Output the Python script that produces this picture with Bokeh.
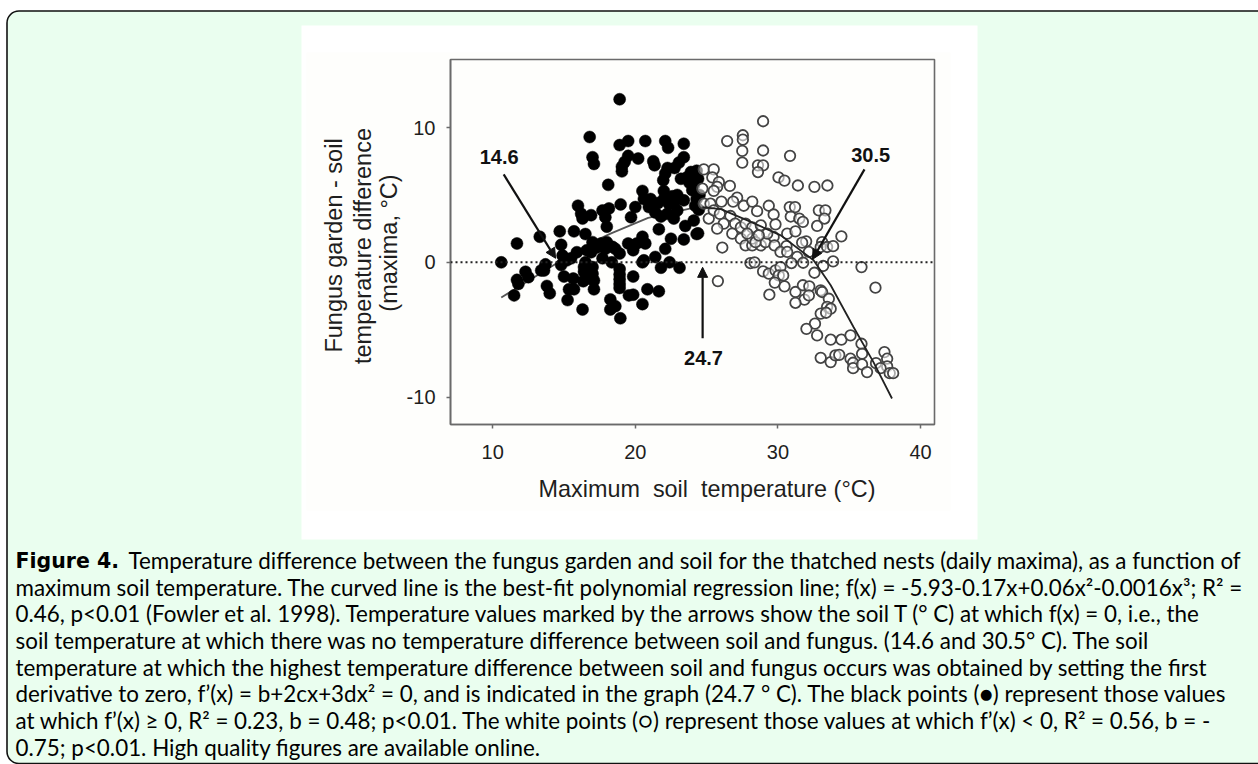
from bokeh.plotting import figure
from bokeh.models import BoxAnnotation, Arrow, NormalHead, Span, FixedTicker, Range1d, Column
from bokeh.core.properties import value
from bokeh.embed import file_html
from bokeh.resources import INLINE

black_x = [18.9,16.8,18.9,19.5,20.7,22.1,22.3,23.4,17.0,17.1,19.5,20.2,19.25,19.06,19.06,21.26,21.35,23.4,23.06,22.75,22.26,22.1,21.96,18.1,23.9,24.3,24.3,24.0,22.0,20.5,
           18.97,15.98,16.2,16.9,16.3,17.7,18.15,17.9,18.0,20.0,19.7,20.6,21.07,20.95,21.4,21.8,22.0,22.35,22.94,23.4,22.7,22.94,22.7,22.24,24.2,24.3,24.1,23.5,24.3,23.4,22.5,22.1,21.65,
           22.4,21.8,23.1,21.4,20.6,20.5,20.7,20.5,20.1,19.5,19.85,18.9,18.35,17.7,18.4,18.0,17.6,17.0,16.5,15.7,14.7,13.3,11.7,10.6,
           14.8,14.9,15.2,15.9,14.8,15.5,16.9,13.7,13.6,13.4,12.3,12.5,11.7,11.8,11.5,
           13.8,14.0,15.0,15.65,15.7,15.35,15.25,16.3,16.35,16.5,16.4,16.4,17.0,17.0,17.1,17.1,16.75,
           18.9,18.9,18.9,18.9,18.9,19.85,19.55,19.85,20.85,21.65,20.5,18.25,18.6,18.25,18.95,
           24.4,24.1,24.45,24.5,23.6,23.8,23.2,24.4,17.3,17.9,18.6,16.6,22.6,21.6]
black_y = [12.1,9.3,8.7,9.0,9.0,9.0,8.5,8.8,7.8,7.3,7.9,7.7,7.45,7.1,6.75,7.5,7.2,7.8,7.4,7.0,7.0,6.6,6.1,5.75,6.7,6.8,6.1,5.35,5.3,5.3,
           4.3,4.2,3.6,3.5,3.25,3.85,4.0,3.35,2.65,4.1,3.35,4.7,4.7,4.1,3.7,3.4,4.7,4.35,5.0,4.6,4.35,3.85,3.25,3.6,4.2,4.7,3.1,2.7,2.1,1.7,1.75,1.0,2.45,
           0.0,-0.4,-0.4,0.4,0.15,0.0,1.4,1.9,1.4,1.4,0.9,0.65,0.0,0.3,1.15,1.5,1.4,1.5,2.1,2.3,2.3,1.9,1.4,0.0,
           1.3,0.5,0.15,0.75,-0.2,0.3,0.75,-0.15,-0.6,-0.6,-0.7,-1.1,-1.3,-1.6,-2.45,
           -1.75,-2.3,-1.05,-1.2,-2.0,-2.0,-2.8,-3.5,-1.4,0.0,-0.35,-0.7,-0.35,-0.85,-1.35,-2.0,-1.2,
           -0.5,-0.9,-1.25,-1.6,-1.9,-1.05,-2.45,-2.4,-2.0,-2.15,-3.1,-2.75,-3.25,-3.5,-4.15,
           6.2,5.7,3.9,5.0,6.3,5.9,6.2,2.15,1.1,1.0,1.0,0.9,4.9,4.4]

white_x = [28.96,26.44,27.54,27.54,27.5,28.96,27.5,28.6,28.96,28.6,30.85,30.04,30.46,31.4,32.56,33.47,
           24.8,25.5,25.4,25.86,26.63,25.74,24.7,25.5,24.8,25.27,26.04,27.14,26.86,27.6,28.2,28.54,29.36,29.7,
           30.83,31.2,30.9,31.5,31.75,32.87,33.33,33.26,32.75,34.45,
           25.15,25.5,25.93,26.67,26.2,25.74,27.0,26.8,27.4,27.73,28.2,28.8,29.83,27.4,27.73,28.2,28.8,29.13,29.7,29.25,26.1,28.2,28.43,27.85,28.66,
           30.65,31.23,29.76,30.6,30.18,30.65,31.35,31.98,31.7,32.17,33.1,33.0,33.45,33.87,
           28.07,28.36,30.95,31.77,33.17,33.87,35.86,36.84,25.79,
           28.96,29.36,29.83,30.18,30.06,30.37,29.78,30.46,29.4,32.56,31.23,31.75,32.2,31.86,31.23,32.17,33.0,33.1,33.57,33.45,33.7,33.0,33.38,32.6,32.0,32.75,33.7,34.45,35.09,35.86,
           33.0,33.7,34.03,34.3,35.09,35.27,35.27,35.9,35.9,36.25,36.88,37.47,37.66,37.66,37.2,37.84,38.08]
white_y = [10.47,9.0,9.43,9.1,8.27,8.3,7.4,7.2,7.2,6.7,7.9,6.3,6.06,5.7,5.6,5.7,
           6.9,6.9,6.3,5.95,5.67,5.6,5.47,5.3,4.35,4.35,4.5,4.8,4.5,4.2,4.5,3.8,4.2,3.55,
           4.1,4.1,3.4,3.25,3.0,3.86,3.86,3.25,2.7,1.93,
           3.25,3.86,3.6,3.44,2.87,2.5,2.87,2.13,2.6,2.87,2.6,2.75,2.82,1.76,1.26,1.26,1.26,1.5,1.88,2.13,1.1,1.76,1.5,2.13,2.0,
           2.13,2.3,1.26,1.2,0.77,0.77,0.4,1.56,1.46,0.77,1.5,1.14,1.14,1.2,
           -0.05,0.0,-0.05,-0.03,-0.27,0.07,-0.35,-1.88,-1.39,
           -0.67,-0.84,-0.6,-0.35,-0.97,-0.97,-1.5,-1.78,-2.4,-0.77,-2.2,-1.7,-1.78,-2.77,-3.0,-2.45,-2.08,-2.2,-2.7,-3.3,-3.44,-3.8,-3.74,-4.55,-4.93,-5.42,-5.74,-5.74,-5.42,-6.04,
           -7.08,-7.4,-6.9,-6.86,-7.15,-7.45,-7.85,-6.78,-7.57,-8.14,-7.48,-6.66,-7.15,-7.72,-7.85,-8.22,-8.22]

curve_left_x = [10.6,12.0,14.6,17.0,18.3,20.9,23.9,24.7]
curve_left_y = [-2.6,-1.7,0.0,1.5,2.15,3.3,4.0,4.1]
curve_right_x = [24.7,26.0,27.9,30.2,32.5,33.7,35.3,36.7,38.0]
curve_right_y = [4.1,3.95,3.1,2.0,0.15,-1.7,-4.8,-7.4,-10.1]

x_ticks = [10,20,30,40]
y_ticks = [-10,0,10]

caption = [
 "Temperature difference between the fungus garden and soil for the thatched nests (daily maxima), as a function of",
 "maximum soil temperature. The curved line is the best-fit polynomial regression line; f(x)  = -5.93-0.17x+0.06x²-0.0016x³; R² =",
 "0.46, p<0.01 (Fowler et al. 1998). Temperature values marked by the arrows show the soil T (° C) at which f(x) = 0, i.e., the",
 "soil temperature at which there was no temperature difference between soil and fungus. (14.6 and 30.5° C). The soil",
 "temperature at which the highest temperature difference between soil and fungus occurs was obtained by setting the first",
 "derivative to zero, f’(x) = b+2cx+3dx² = 0, and is indicated in the graph (24.7 ° C). The black points (●) represent those values",
 "at which f’(x) ≥ 0, R²  = 0.23, b = 0.48; p<0.01. The white points (○) represent those values at which f’(x) < 0, R²  = 0.56, b =  -",
 "0.75; p<0.01. High quality figures are available online.",
]

W, H = 1258, 764
L, R, T, B = 450, 934, 59, 424

bg = figure(width=W, height=H, output_backend="svg", toolbar_location=None,
            x_range=Range1d(0, W), y_range=Range1d(H, 0),
            min_border_left=0, min_border_right=0, min_border_top=0, min_border_bottom=0,
            x_axis_location=None, y_axis_location=None)
bg.grid.visible = False
bg.outline_line_color = None
bg.background_fill_color = "#ffffff"
bg.border_fill_color = "#ffffff"

def box(l, r, t, b, **kw):
    bg.add_layout(BoxAnnotation(left=l, right=r, top=t, bottom=b, level="underlay", **kw))

box(6.5, 1270, 10.5, 763, fill_color="#eafeef", fill_alpha=1, line_color="#111111", line_alpha=1, line_width=1.6, border_radius=12)
box(301, 977, 25, 539, fill_color="#ffffff", fill_alpha=1, line_color=None)
box(306, 950, 52, 510, fill_color="#fefefc", fill_alpha=1, line_color=None)

def text(x, y, s, font="Liberation Sans", size=20, style="normal", color="#1e1e1e", align="left", angle=0):
    bg.text([x], [y], text=[s], text_font=value(font), text_font_size=value(f"{size}px"),
            text_font_style=style, text_color=color, text_align=align, text_baseline="middle",
            angle=angle, angle_units="deg")

text(333, 245, "Fungus garden - soil", size=23.5, align="center", angle=90)
text(362, 245.5, "temperature difference", size=23.5, align="center", angle=90)
text(388, 242.5, "(maxima, °C)", size=23.5, align="center", angle=90)
text(706.5, 488, "Maximum\u00a0\u00a0soil\u00a0\u00a0temperature (°C)", size=23.4, align="center")

text(15, 560, "Figure 4.", font="DejaVu Sans", size=20.5, style="bold", color="#000000")
ys = [560, 587, 613, 640, 667, 693, 720, 747]
for i, (y, s) in enumerate(zip(ys, caption)):
    text(128 if i == 0 else 15, y, s, font="Lato", size=22.4, color="#000000")

p = figure(width=W, height=H, output_backend="svg", toolbar_location=None,
           x_range=Range1d(7.04, 40.98), y_range=Range1d(-12.03, 15.05),
           min_border_left=L, min_border_right=W-R, min_border_top=T, min_border_bottom=H-B)
p.grid.visible = False
p.border_fill_color = None
p.background_fill_color = "#fefefc"
p.outline_line_color = "#6a6a6a"
p.outline_line_width = 1.6

for ax, ticks in ((p.xaxis[0], x_ticks), (p.yaxis[0], y_ticks)):
    ax.ticker = FixedTicker(ticks=ticks)
    ax.minor_tick_line_color = None
    ax.major_tick_out = 4
    ax.major_tick_in = 0
    ax.major_tick_line_color = "#6a6a6a"
    ax.major_tick_line_width = 1.5
    ax.axis_line_color = "#6a6a6a"
    ax.axis_line_width = 1.6
    ax.major_label_text_font = "Liberation Sans"
    ax.major_label_text_font_size = "20px"
    ax.major_label_text_color = "#1e1e1e"
p.yaxis[0].major_label_overrides = {-10: "-10"}
p.xaxis[0].major_label_standoff = 16
p.yaxis[0].major_label_standoff = 11

p.add_layout(Span(location=0, dimension="width", line_color="#222222", line_width=2, line_dash="2 3"))

p.line(curve_left_x, curve_left_y, line_color="#555555", line_width=1.8)
p.scatter(black_x, black_y, size=12, marker="circle", fill_color="#000000", line_color="#000000", line_width=0.5)
p.scatter(white_x, white_y, size=10.5, marker="circle", fill_color="#ffffff", fill_alpha=0.55,
          line_color="#444444", line_width=1.8)
p.line(curve_right_x, curve_right_y, line_color="#222222", line_width=1.8)

def arrow(x0, y0, x1, y1):
    p.add_layout(Arrow(end=NormalHead(size=10, fill_color="#111111", line_color="#111111"),
                       x_start=x0, y_start=y0, x_end=x1, y_end=y1, line_color="#111111", line_width=2.2))
arrow(10.77, 6.53, 14.41, 0.3)
arrow(36.07, 6.9, 32.42, 0.22)
arrow(24.72, -5.64, 24.72, -0.37)

for lx, ly, s in ((10.45, 7.8, "14.6"), (36.5, 7.95, "30.5"), (24.78, -7.1, "24.7")):
    p.text([lx], [ly], text=[s], text_font=value("Liberation Sans"), text_font_size=value("20px"),
           text_font_style="bold", text_color="#111111", text_align="center", text_baseline="middle")

abs_style = {"position": "absolute", "left": "0px", "top": "0px"}
back = Column(children=[bg], width=W, height=H, styles=abs_style)
front = Column(children=[p], width=W, height=H, styles=abs_style)
root = Column(children=[back, front], width=W, height=H, styles=abs_style)
open("out.html", "w").write(file_html(root, INLINE))
